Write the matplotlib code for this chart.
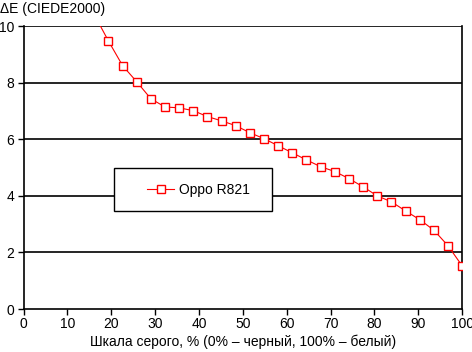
import numpy as np
from matplotlib import pyplot as plt
from matplotlib.patches import Rectangle

plt.rcParams["font.family"] = ["Liberation Sans", "DejaVu Sans"]
plt.rcParams["font.size"] = 10

# gray level, % (steps of 100/31)
gray = np.arange(5, 32) * 100 / 31
delta_e = [10.4, 9.47, 8.60, 8.03, 7.43, 7.14, 7.11, 7.01, 6.80, 6.65, 6.48,
           6.23, 6.02, 5.77, 5.52, 5.27, 5.03, 4.86, 4.61, 4.32, 4.00, 3.79,
           3.47, 3.16, 2.79, 2.24, 1.53]
series_name = "Oppo R821"
x_ticks = list(range(0, 101, 10))
y_ticks = [0, 2, 4, 6, 8, 10]

fig = plt.figure(figsize=(4.72, 3.52), dpi=100)
ax = fig.add_axes([0.05, 0.122, 0.929, 0.804])

for y in y_ticks[1:]:
    ax.axhline(y, color="black", lw=1.2, zorder=1)

ax.plot(gray, delta_e, color="red", lw=0.8, marker="s", markersize=5.2,
        markerfacecolor="white", markeredgecolor="red", markeredgewidth=1.0,
        label=series_name, zorder=3)

ax.set_xlim(0, 100)
ax.set_ylim(0, 10)
ax.set_xticks(x_ticks)
ax.set_yticks(y_ticks)
ax.tick_params(direction="out", length=4, width=1, color="black")
ax.tick_params(axis="x", pad=1.5)
ax.tick_params(axis="y", pad=3)
for side in ["left", "bottom", "right"]:
    ax.spines[side].set_linewidth(1.2)
ax.spines["top"].set_visible(False)

ax.set_xlabel("Шкала серого, % (0% – черный, 100% – белый)", labelpad=3)
fig.text(0.0, 0.995, "ΔE (CIEDE2000)", ha="left", va="top")

# legend box drawn by hand, legend content placed inside
ax.add_patch(Rectangle((0.206, 0.346), 0.361, 0.152, transform=ax.transAxes,
                       facecolor="white", edgecolor="black", lw=1.0, zorder=4))
ax.legend(loc="center left", bbox_to_anchor=(0.282, 0.422), frameon=False,
          borderpad=0, borderaxespad=0, handlelength=1.95, handletextpad=0.3)

plt.savefig("out.png", dpi=100)
